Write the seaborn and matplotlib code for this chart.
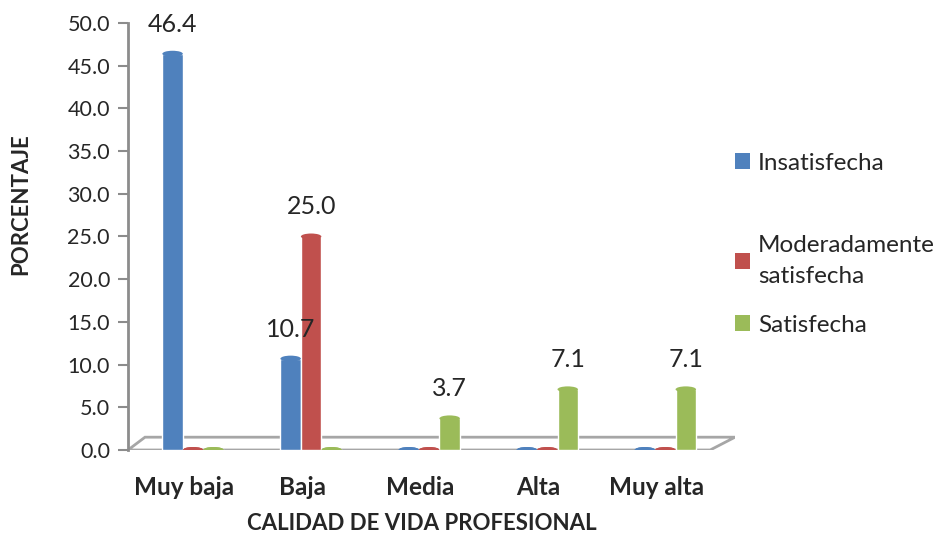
import pandas as pd
import matplotlib.pyplot as plt
import matplotlib.transforms as mtransforms
import seaborn as sns
from matplotlib.patches import Ellipse, Polygon, Patch

# datos del gráfico
categorias = ['Muy baja', 'Baja', 'Media', 'Alta', 'Muy alta']
series = ['Insatisfecha', 'Moderadamente\nsatisfecha', 'Satisfecha']
insatisfecha = [46.4, 10.7, 0.0, 0.0, 0.0]
moderada = [0.0, 25.0, 0.0, 0.0, 0.0]
satisfecha = [0.0, 0.0, 3.7, 7.1, 7.1]
colores = ['#4F81BD', '#C0504D', '#9BBB59']

df = pd.DataFrame({
    'Categoria': categorias * 3,
    'Serie': [series[0]] * 5 + [series[1]] * 5 + [series[2]] * 5,
    'Valor': insatisfecha + moderada + satisfecha,
})

sns.set_theme(style='white')
plt.rcParams['font.family'] = ['Lato', 'DejaVu Sans']

fig = plt.figure(figsize=(9.45, 5.35), dpi=100)
ax = fig.add_axes([128 / 945, 85 / 535, (735 - 128) / 945, 427 / 535])

# piso 3D simplificado
ax.add_patch(Polygon([(-0.551, 0), (4.38, 0), (4.59, 1.5), (-0.407, 1.5)],
                     closed=True, facecolor='white', edgecolor='#a6a6a6',
                     linewidth=2, zorder=0))

sns.barplot(data=df, x='Categoria', y='Valor', hue='Serie', order=categorias,
            hue_order=series, palette=colores, width=0.52, saturation=1,
            legend=False, ax=ax, zorder=2)

# tapas elípticas tipo cilindro
for cont, col in zip(ax.containers, colores):
    for bar in cont:
        x = bar.get_x() + bar.get_width() / 2
        h = bar.get_height()
        ax.add_patch(Ellipse((x, h), bar.get_width(), 0.7, facecolor=col,
                             edgecolor='none', zorder=3))
        ax.add_patch(Ellipse((x, 0), bar.get_width(), 0.7, facecolor=col,
                             edgecolor='none', zorder=1.9))
    etiquetas = [f'{v:.1f}' if v > 0 else '' for v in cont.datavalues]
    ax.bar_label(cont, labels=etiquetas, padding=13, fontsize=18)

ax.set_xlim(-0.551, 4.59)
ax.set_ylim(0, 50)
ax.set_yticks([i * 5 for i in range(11)])
ax.set_yticklabels([f'{i * 5:.1f}' for i in range(11)], fontsize=15.5)
ax.tick_params(axis='y', left=True, length=7, width=1.5, color='#8c8c8c', pad=6)
ax.tick_params(axis='x', bottom=False, pad=13)
desplaza = mtransforms.ScaledTranslation(-9 / 100, 0, fig.dpi_scale_trans)
for lbl in ax.get_xticklabels():
    lbl.set_fontweight('bold')
    lbl.set_fontsize(17.5)
    lbl.set_transform(lbl.get_transform() + desplaza)

for s in ['top', 'right', 'bottom']:
    ax.spines[s].set_visible(False)
ax.spines['left'].set_color('#8c8c8c')
ax.spines['left'].set_linewidth(2)

ax.set_xlabel('CALIDAD DE VIDA PROFESIONAL', fontsize=16, fontweight='bold')
ax.xaxis.set_label_coords(0.484, -0.148)
ax.set_ylabel('PORCENTAJE', fontsize=16, fontweight='bold')
ax.yaxis.set_label_coords(-0.16, 0.575)

# leyenda: una entrada por serie, colocadas como en el original
centros_y = [163, 261, 325]
for serie, col, yc in zip(series, colores, centros_y):
    leg = fig.legend([Patch(facecolor=col, edgecolor='none')], [serie],
                     loc='center left', bbox_to_anchor=(735 / 945, 1 - yc / 535),
                     frameon=False, fontsize=17.5, handlelength=0.6, handleheight=0.6,
                     handletextpad=0.35, borderpad=0, borderaxespad=0)
    for t in leg.get_texts():
        t.set_linespacing(1.55)

fig.savefig('out.png', dpi=100)
